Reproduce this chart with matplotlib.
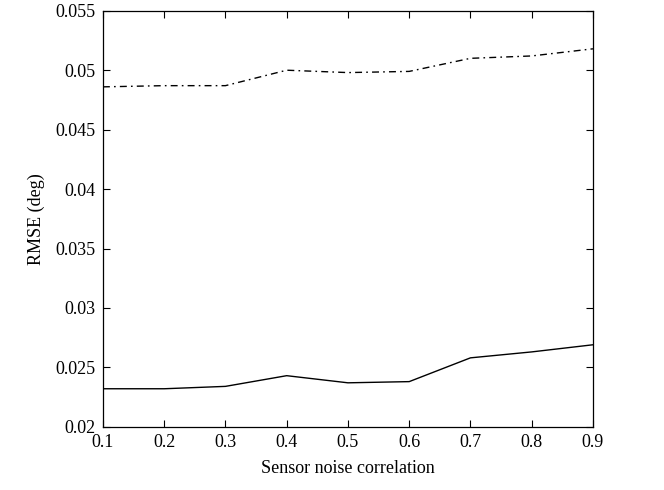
import matplotlib
matplotlib.use("Agg")
import matplotlib.pyplot as plt

# sensor noise correlation vs RMSE
corr = [0.1, 0.2, 0.3, 0.4, 0.5, 0.6, 0.7, 0.8, 0.9]
rmse_upper = [0.0486, 0.0487, 0.0487, 0.0500, 0.0498, 0.0499, 0.0510, 0.0512, 0.0518]
rmse_lower = [0.0232, 0.0232, 0.0234, 0.0243, 0.0237, 0.0238, 0.0258, 0.0263, 0.0269]
xticks = [0.1, 0.2, 0.3, 0.4, 0.5, 0.6, 0.7, 0.8, 0.9]
yticks = [0.02, 0.025, 0.03, 0.035, 0.04, 0.045, 0.05, 0.055]
ylabels = ["0.02", "0.025", "0.03", "0.035", "0.04", "0.045", "0.05", "0.055"]

plt.rcParams['font.family'] = ['Liberation Serif', 'DejaVu Serif']
plt.rcParams['font.size'] = 13

fig = plt.figure(figsize=(6.64, 4.90), dpi=100)
ax = fig.add_axes([0.155, 0.129, 0.738, 0.849])

ax.plot(corr, rmse_upper, color='black', lw=1.0, linestyle=(0, (5, 3, 1.2, 3)))
ax.plot(corr, rmse_lower, color='black', lw=1.0, linestyle='-')

ax.set_xlim(0.1, 0.9)
ax.set_ylim(0.02, 0.055)
ax.set_xticks(xticks)
ax.set_xticklabels([str(v) for v in xticks])
ax.set_yticks(yticks)
ax.set_yticklabels(ylabels)
ax.tick_params(direction='in', top=True, right=True, length=5, width=0.8, pad=5)
for s in ax.spines.values():
    s.set_linewidth(0.9)

ax.set_xlabel("Sensor noise correlation", labelpad=7)
ax.set_ylabel("RMSE (deg)", labelpad=8)

fig.savefig("out.png", dpi=100)
